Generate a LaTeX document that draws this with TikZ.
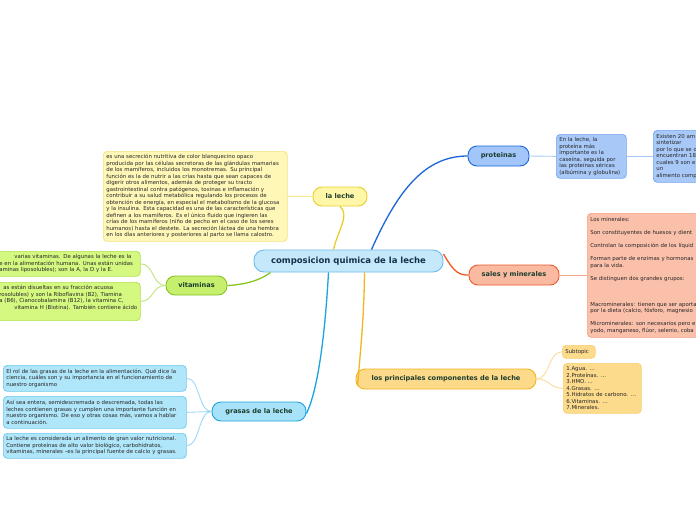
\documentclass[tikz,border=0pt]{standalone}
\usepackage{fontspec}
\setmainfont{DejaVu Sans}
\usetikzlibrary{calc}
\definecolor{cfill}{HTML}{C5E8FB}\definecolor{cbord}{HTML}{6CBCEB}
\definecolor{ctext}{HTML}{14324A}\definecolor{mtext}{HTML}{1B3D2E}\definecolor{txt}{HTML}{262626}
\definecolor{yfill}{HTML}{FFF6A8}\definecolor{ybord}{HTML}{E8CF2A}\definecolor{ybfill}{HTML}{FFF7B8}\definecolor{ybbord}{HTML}{F2E27E}\definecolor{yline}{HTML}{F5E890}
\definecolor{pfill}{HTML}{A2C6FA}\definecolor{pbord}{HTML}{1A64D6}\definecolor{pbfill}{HTML}{A8C9F8}\definecolor{pbbord}{HTML}{72A6F0}\definecolor{pline}{HTML}{A8C8F8}
\definecolor{sfill}{HTML}{FABAA2}\definecolor{sbord}{HTML}{EE5A2A}\definecolor{sbfill}{HTML}{FBC0AA}\definecolor{sbbord}{HTML}{F5A080}\definecolor{sline}{HTML}{F5A890}
\definecolor{vfill}{HTML}{C6EF6E}\definecolor{vbord}{HTML}{88C424}\definecolor{vbfill}{HTML}{D4F880}\definecolor{vbbord}{HTML}{B0E050}\definecolor{vline}{HTML}{BFE47E}
\definecolor{gfill}{HTML}{A8E2F8}\definecolor{gbord}{HTML}{1CA4E0}\definecolor{gbfill}{HTML}{B0E6FA}\definecolor{gbbord}{HTML}{6CC8F0}\definecolor{gline}{HTML}{9CDAF6}
\definecolor{ofill}{HTML}{FDD98A}\definecolor{obord}{HTML}{F5B520}\definecolor{obfill}{HTML}{FDDB8C}\definecolor{obbord}{HTML}{F8CF70}\definecolor{oline}{HTML}{FDDC9A}
\tikzset{
  mainnode/.style={draw, rounded corners=9pt, line width=0.9pt, inner sep=0pt, text=mtext,
    font=\bfseries\fontsize{6.6}{8}\selectfont},
  tbox/.style={draw, rounded corners=4pt, line width=0.7pt, inner sep=3pt, align=left, anchor=north west,
    text=txt, font=\fontsize{5.4}{6.5}\selectfont},
  conn/.style={line width=1.3pt},
  subconn/.style={line width=0.9pt},
}
\begin{document}
\begin{tikzpicture}[x=1pt,y=-1pt]
\useasboundingbox (0,0) rectangle (696,520);
\clip (0,0) rectangle (696,520);
\fill[white] (0,0) rectangle (696,520);

% main nodes
\node[draw=cbord, fill=cfill, rounded corners=10pt, line width=0.9pt, minimum width=189, minimum height=22, inner sep=0pt,
  text=ctext, font=\bfseries\fontsize{8.5}{10}\selectfont] (center) at (348.5,261) {composicion quimica de la leche};
\node[mainnode, fill=yfill, draw=ybord, minimum width=54, minimum height=19] (laleche) at (340,196.5) {la leche};
\node[mainnode, fill=pfill, draw=pbord, minimum width=61, minimum height=20] (proteinas) at (498.5,156) {proteinas};
\node[mainnode, fill=sfill, draw=sbord, minimum width=90, minimum height=20] (sales) at (514,275) {sales y minerales};
\node[mainnode, fill=vfill, draw=vbord, minimum width=61, minimum height=19] (vitaminas) at (196.5,285.5) {vitaminas};
\node[mainnode, fill=gfill, draw=gbord, minimum width=94, minimum height=19] (grasas) at (259,411.5) {grasas de la leche};
\node[mainnode, fill=ofill, draw=obord, minimum width=180, minimum height=20] (principales) at (446,379) {los principales componentes de la leche};

% text boxes
\node[tbox, fill=ybfill, draw=ybbord, text width=178, minimum height=90] (lechetxt) at (103,151) {es una secreción nutritiva de color blanquecino opaco\\
producida por las células secretoras de las glándulas mamarias\\
de los mamíferos, incluidos los monotremas. Su principal\\
función es la de nutrir a las crías hasta que sean capaces de\\
digerir otros alimentos, además de proteger su tracto\\
gastrointestinal contra patógenos, toxinas e inflamación y\\
contribuir a su salud metabólica regulando los procesos de\\
obtención de energía, en especial el metabolismo de la glucosa\\
y la insulina. Esta capacidad es una de las características que\\
definen a los mamíferos. Es el único fluido que ingieren las\\
crías de los mamíferos (niño de pecho en el caso de los seres\\
humanos) hasta el destete. La secreción láctea de una hembra\\
en los días anteriores y posteriores al parto se llama calostro.};

\node[tbox, fill=vbfill, draw=vbbord, text width=138, minimum height=25] (vit1) at (-4,251) {\hspace{15pt}varias vitaminas. De algunas la leche es la\\
e en la alimentación humana. Unas están unidas\\
aminas liposolubles); son la A, la D y la E.};
\node[tbox, fill=vbfill, draw=vbbord, text width=138, minimum height=38] (vit2) at (-4,282) {\hspace{4pt}as están disueltas en su fracción acuosa\\
rosolubles) y son la Riboflavina (B2), Tiamina\\
a (B6), Cianocobalamina (B12), la vitamina C,\\
\hspace{15pt}vitamina H (Biotina). También contiene ácido\\ \strut};

\node[tbox, fill=gbfill, draw=gbbord, text width=177, minimum height=26] (gr1) at (3,365) {El rol de las grasas de la leche en la alimentación. Qué dice la\\
ciencia, cuáles son y su importancia en el funcionamiento de\\
nuestro organismo};
\node[tbox, fill=gbfill, draw=gbbord, text width=177, minimum height=32] (gr2) at (3,396) {Así sea entera, semidescremada o descremada, todas las\\
leches contienen grasas y cumplen una importante función en\\
nuestro organismo. De eso y otras cosas más, vamos a hablar\\
a continuación.};
\node[tbox, fill=gbfill, draw=gbbord, text width=177, minimum height=25] (gr3) at (3,433) {La leche es considerada un alimento de gran valor nutricional.\\
Contiene proteínas de alto valor biológico, carbohidratos,\\
vitaminas, minerales –es la principal fuente de calcio y grasas.};

\node[tbox, fill=pbfill, draw=pbbord, text width=64, minimum height=44] (prot1) at (556,134) {En la leche, la\\
proteína más\\
importante es la\\
caseína, seguida por\\
las proteínas séricas\\
(albúmina y globulina)};
\node[tbox, fill=pbfill, draw=pbbord, text width=70, minimum height=52] (prot2) at (653,130) {Existen 20 am\\
sintetizar\\
por lo que se d\\
encuentran 18\\
cuales 9 son e\\
un\\
alimento comp};

\node[tbox, fill=sbfill, draw=sbbord, text width=130, minimum height=124] (salestxt) at (587,213) {Los minerales:\\[6.5pt]
Son constituyentes de huesos y dient\\[6.5pt]
Controlan la composición de los líquid\\[6.5pt]
Forman parte de enzimas y hormonas\\
para la vida.\\[6.5pt]
Se distinguen dos grandes grupos:\\[19.5pt]
Macrominerales: tienen que ser aporta\\
por la dieta (calcio, fósforo, magnesio\\[6.5pt]
Microminerales: son necesarios pero e\\
yodo, manganeso, flúor, selenio, coba};

\node[tbox, fill=obfill, draw=obbord, text width=27, minimum height=13, inner sep=3pt] (subtopic) at (562,345) {Subtopic};
\node[tbox, fill=obfill, draw=obbord, text width=72, minimum height=50] (lista) at (563,363) {1.Agua. ...\\
2.Proteínas. ...\\
3.HMO. ...\\
4.Grasas. ...\\
5.Hidratos de carbono. ...\\
6.Vitaminas. ...\\
7.Minerales.};

% main connectors
\draw[conn, draw=ybord] ([xshift=-15]center.north) .. controls (338,230) and (350,215) .. (laleche.south);
\draw[conn, draw=pbord] ([xshift=23]center.north) .. controls (398,190) and (425,156) .. (proteinas.west);
\draw[conn, draw=sbord] ([yshift=7]center.east) .. controls (455,274) and (460,275) .. (sales.west);
\draw[conn, draw=obord] ([xshift=16]center.south) .. controls (364,320) and (360,355) .. ([yshift=-7,xshift=2]principales.west);
\draw[conn, draw=gbord] ([xshift=-20]center.south) .. controls (325,335) and (318,390) .. ([yshift=-2]grasas.east);
\draw[conn, draw=vbord] ([xshift=-78]center.south) .. controls (258,282) and (240,285) .. (vitaminas.east);

% sub connectors
\draw[subconn, draw=yline] (laleche.west) -- (lechetxt.east);
\draw[subconn, draw=vline] (vitaminas.west) .. controls (152,285.5) and (154,263.5) .. (vit1.east);
\draw[subconn, draw=vline] (vitaminas.west) .. controls (152,285.5) and (154,301) .. (vit2.east);
\draw[subconn, draw=gline] (grasas.west) .. controls (198,411.5) and (200,378) .. (gr1.east);
\draw[subconn, draw=gline] (grasas.west) -- (gr2.east);
\draw[subconn, draw=gline] (grasas.west) .. controls (198,411.5) and (200,445.5) .. (gr3.east);
\draw[subconn, draw=pline] (proteinas.east) -- (prot1.west);
\draw[subconn, draw=pline] (prot1.east) .. controls (640,156) and (640,157) .. (prot2.west);
\draw[subconn, draw=sline] (sales.east) -- (sales.east -| salestxt.west);
\draw[subconn, draw=oline] (principales.east) .. controls (550,379) and (548,351.5) .. (subtopic.west);
\draw[subconn, draw=oline] (principales.east) .. controls (550,379) and (549,388) .. (lista.west);
\end{tikzpicture}
\end{document}
